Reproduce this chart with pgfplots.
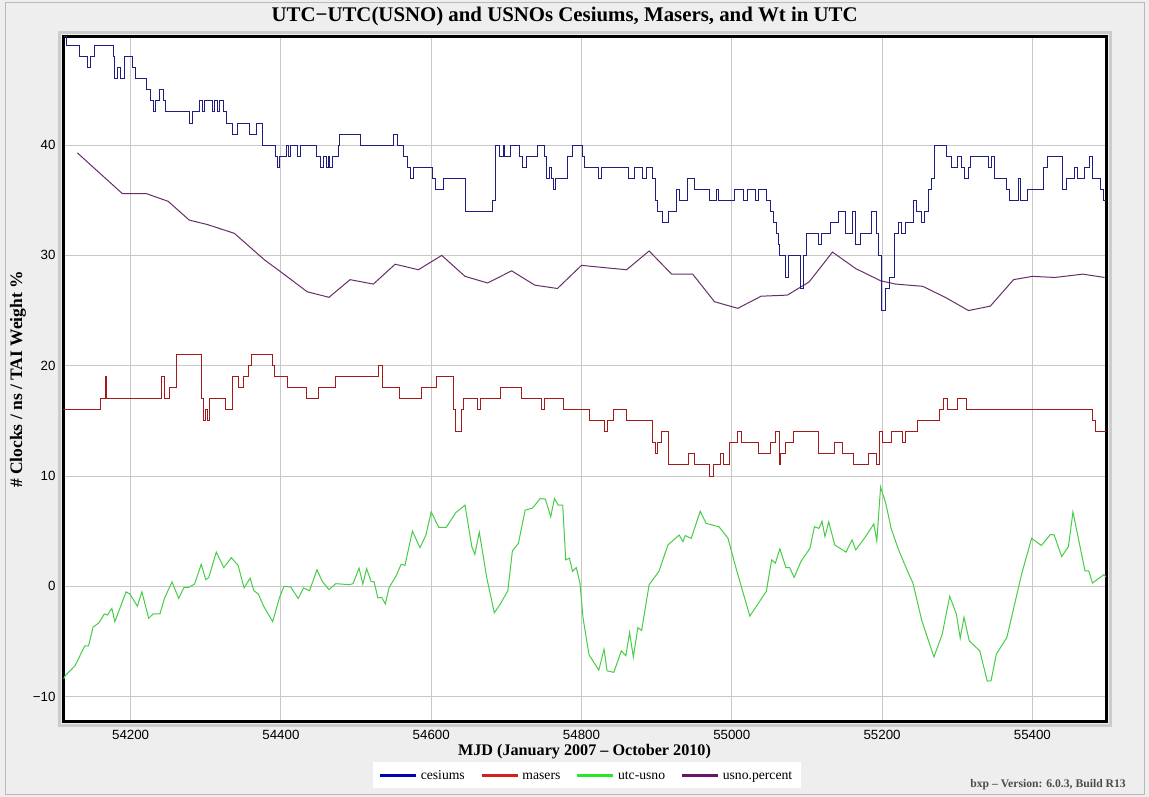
\documentclass[border=0pt]{standalone}
\usepackage{fontspec}
\setmainfont{Liberation Serif}
\setsansfont{Liberation Sans}
\usepackage{pgfplots}
\pgfplotsset{compat=1.18}

\definecolor{bg}{RGB}{238,238,238}
\definecolor{gridc}{RGB}{200,200,200}
\definecolor{cslin}{RGB}{30,30,128}
\definecolor{mslin}{RGB}{165,25,25}
\definecolor{uulin}{RGB}{70,205,70}
\definecolor{pclin}{RGB}{105,45,105}
\definecolor{csleg}{RGB}{0,0,190}
\definecolor{msleg}{RGB}{215,30,30}
\definecolor{uuleg}{RGB}{40,230,40}
\definecolor{pcleg}{RGB}{105,20,105}

\begin{document}
\begin{tikzpicture}
% page background and frame (1px = 0.6pt)
\fill[bg] (0,0) rectangle (689.4pt,478.2pt);
\draw[gray!55, line width=0.6pt] (3pt,1.5pt) rectangle (686.4pt,476.7pt);
\draw[gray!40, line width=1.8pt] (35.4pt,42.6pt) rectangle (666pt,458.4pt);

\begin{axis}[
  at={(37.8pt,45pt)}, anchor=south west,
  scale only axis,
  width=625.8pt, height=411pt,
  xmin=54110, xmax=55498,
  ymin=-12.3, ymax=49.8,
  axis background/.style={fill=white},
  axis line style={line width=1.8pt, black},
  major tick length=0pt,
  grid=major,
  grid style={line width=0.6pt, gridc},
  scaled x ticks=false,
  scaled y ticks=false,
  xtick={54200,54400,54600,54800,55000,55200,55400},
  xticklabels={54200,54400,54600,54800,55000,55200,55400},
  ytick={-10,0,10,20,30,40},
  yticklabels={−10,0,10,20,30,40},
  xticklabel style={font=\sffamily\fontsize{8}{8}\selectfont, anchor=center, yshift=-7.8pt},
  yticklabel style={font=\sffamily\fontsize{8}{8}\selectfont, anchor=east, xshift=-1pt},
  title={UTC−UTC(USNO) and USNOs Cesiums, Masers, and Wt in UTC},
  title style={at={(axis description cs:0.481,1.0292)}, anchor=center, yshift=-6pt,
    font=\bfseries\fontsize{12.5}{13}\selectfont},
  xlabel={MJD (January 2007 – October 2010)},
  xlabel style={at={(axis description cs:0.5,-0.0438)}, anchor=center,
    font=\bfseries\fontsize{9.7}{10}\selectfont},
  ylabel={\# Clocks / ns / TAI Weight \%},
  ylabel style={at={(axis description cs:-0.0431,0.5)}, anchor=center,
    font=\bfseries\fontsize{10.5}{11}\selectfont},
  legend columns=4,
  legend style={at={(axis description cs:0.5024,-0.0774)}, anchor=center,
    draw=none, fill=white, inner xsep=3pt, inner ysep=1.5pt,
    font=\fontsize{8.2}{9}\selectfont,
    nodes={text height=1.55ex, text depth=0.3ex},
    /tikz/every even column/.append style={column sep=7.2pt}},
  legend image code/.code={\draw[#1] (0pt,0pt) -- (21.6pt,0pt);},
]

\addlegendimage{csleg, line width=1.8pt}
\addlegendimage{msleg, line width=1.8pt}
\addlegendimage{uuleg, line width=1.8pt}
\addlegendimage{pcleg, line width=1.8pt}

% usno.percent
\addplot[pclin, line width=0.6pt, forget plot] coordinates {
(54129,39.3) (54189,35.6) (54221,35.6) (54250,34.9) (54278,33.2) (54302,32.8)
(54338,32.0) (54378,29.6) (54400,28.5) (54435,26.7) (54464,26.2) (54492,27.8)
(54523,27.4) (54552,29.2) (54583,28.7) (54614,30.0) (54645,28.1) (54675,27.5)
(54707,28.6) (54738,27.3) (54768,27.0) (54800,29.1) (54829,28.9) (54860,28.7)
(54890,30.4) (54920,28.3) (54948,28.3) (54977,25.8) (55008,25.2) (55039,26.3)
(55074,26.4) (55103,27.6) (55134,30.3) (55165,28.8) (55198,27.7) (55218,27.4)
(55254,27.2) (55284,26.2) (55315,25.0) (55344,25.4) (55375,27.8) (55400,28.1)
(55430,28.0) (55467,28.3) (55496,28.0)
};

% utc-usno
\addplot[uulin, line width=0.6pt, forget plot] coordinates {
(54111,-8.4) (54113,-8.1) (54126,-7.2) (54139,-5.4) (54144,-5.4) (54150,-3.7)
(54158,-3.3) (54165,-2.5) (54169,-2.6) (54175,-2.0) (54179,-3.2) (54194,-0.5)
(54199,-0.7) (54209,-1.8) (54215,-0.5) (54224,-2.9) (54230,-2.5) (54239,-2.5)
(54245,-1.1) (54255,0.4) (54264,-1.1) (54271,-0.1) (54277,-0.1) (54285,0.2)
(54294,2.0) (54300,0.6) (54304,0.8) (54314,3.1) (54324,1.7) (54334,2.6)
(54343,1.9) (54351,-0.15) (54359,0.75) (54364,-0.4) (54370,-0.7) (54377,-1.8)
(54389,-3.2) (54398,-1.05) (54404,0) (54413,-0.06) (54423,-1.1) (54430,-0.15)
(54438,-0.4) (54448,1.5) (54455,0.45) (54464,-0.3) (54473,0.24) (54491,0.15)
(54496,0.24) (54504,1.65) (54509,0.2) (54514,1.6) (54520,0.45) (54524,0.4)
(54529,-1.05) (54534,-1.0) (54539,-1.6) (54544,-0.1) (54553,0.9) (54560,2.0)
(54565,1.9) (54575,5.0) (54585,3.5) (54593,4.65) (54600,6.75) (54610,5.35)
(54620,5.35) (54633,6.7) (54645,7.36) (54654,3.6) (54658,2.9) (54664,4.9)
(54674,0.75) (54684,-2.4) (54692,-1.6) (54702,-0.4) (54708,3.2) (54716,3.9)
(54725,6.9) (54735,7.1) (54745,7.96) (54752,7.9) (54759,6.3) (54764,7.96)
(54769,7.36) (54775,7.36) (54779,2.4) (54784,2.55) (54788,1.35) (54793,1.7)
(54798,0.3) (54802,-2.85) (54810,-6.2) (54823,-7.6) (54830,-5.7) (54834,-7.66)
(54843,-7.8) (54853,-5.85) (54859,-6.3) (54864,-4.2) (54869,-6.4) (54875,-3.75)
(54880,-4.0) (54890,0.15) (54903,1.35) (54915,3.75) (54930,4.65) (54935,4.05)
(54938,4.6) (54946,4.35) (54958,6.8) (54966,5.7) (54983,5.4) (54995,4.35)
(55005,1.8) (55024,-2.7) (55046,-0.45) (55053,2.4) (55058,2.1) (55064,3.4)
(55072,1.7) (55077,1.7) (55083,0.8) (55092,2.25) (55104,3.45) (55110,5.4)
(55116,5.25) (55120,5.9) (55124,4.5) (55129,5.85) (55137,3.75) (55152,3.1)
(55160,4.2) (55165,3.3) (55178,4.5) (55189,5.65) (55193,4.1) (55198,9.0)
(55205,7.5) (55212,5.25) (55222,3.3) (55234,1.35) (55241,0.3) (55253,-3.15)
(55269,-6.4) (55280,-4.35) (55290,-0.9) (55299,-2.55) (55304,-4.7) (55309,-2.8)
(55316,-4.95) (55330,-5.85) (55340,-8.6) (55345,-8.56) (55352,-6.15) (55366,-4.65)
(55386,1.2) (55399,4.35) (55412,3.7) (55424,4.7) (55429,4.65) (55439,2.7)
(55448,3.6) (55454,6.75) (55470,1.4) (55475,1.4) (55480,0.3) (55495,1.05)
(55499,0.8)
};

% masers
\addplot[mslin, line width=0.6pt, const plot, forget plot] coordinates {
(54108,16) (54160,17) (54166,19) (54168,17) (54241,19) (54245,17) (54252,18)
(54261,21) (54294,17) (54297,15) (54300,16) (54302,15) (54305,17) (54326,16)
(54335,19) (54343,18) (54350,19) (54357,20) (54361,21) (54389,20) (54391,19)
(54409,18) (54434,17) (54450,18) (54472,19) (54530,20) (54535,18) (54558,17)
(54587,18) (54607,19) (54630,16) (54632,14) (54640,16) (54643,17) (54661,16)
(54665,17) (54692,18) (54720,17) (54747,16) (54751,17) (54776,16) (54810,15)
(54831,14) (54835,15) (54842,16) (54860,15) (54895,13) (54899,12) (54901,13)
(54907,14) (54916,11) (54942,12) (54951,11) (54970,10) (54976,11) (54985,12)
(54989,11) (54997,13) (55007,14) (55013,13) (55036,12) (55051,13) (55058,14)
(55063,11) (55065,12) (55072,13) (55082,14) (55116,12) (55137,13) (55147,12)
(55162,11) (55182,12) (55192,11) (55196,14) (55200,13) (55212,14) (55227,13)
(55231,14) (55247,15) (55277,16) (55282,17) (55287,16) (55301,17) (55312,16)
(55480,15) (55484,14) (55500,14)
};

% cesiums
\addplot[cslin, line width=0.6pt, const plot, forget plot] coordinates {
(54111,49.8) (54114,49) (54132,48) (54143,47) (54147,48) (54152,49) (54177,48)
(54179,46) (54183,47) (54186,46) (54192,48) (54202,47) (54207,46) (54221,45)
(54227,44) (54230,43) (54233,44) (54238,45) (54244,44) (54247,43) (54278,42)
(54282,43) (54291,44) (54296,43) (54298,44) (54309,43) (54311,44) (54316,43)
(54318,44) (54323,43) (54327,42) (54336,41) (54342,42) (54358,41) (54367,42)
(54375,40) (54393,39) (54396,38) (54398,39) (54407,40) (54410,39) (54413,40)
(54422,39) (54426,40) (54448,39) (54453,38) (54457,39) (54460,38) (54463,39)
(54465,38) (54468,39) (54476,40) (54478,41) (54506,40) (54550,41) (54555,40)
(54563,39) (54568,38) (54573,37) (54576,38) (54602,37) (54606,36) (54616,37)
(54646,34) (54682,35) (54685,40) (54691,39) (54696,40) (54698,39) (54706,40)
(54717,39) (54722,38) (54727,39) (54741,40) (54751,39) (54754,37) (54758,38)
(54760,37) (54763,36) (54766,37) (54782,39) (54788,40) (54801,39) (54804,38)
(54822,37) (54826,38) (54862,37) (54870,38) (54881,37) (54886,38) (54895,37)
(54899,35) (54901,34) (54908,33) (54916,34) (54926,36) (54930,35) (54941,37)
(54950,36) (54970,35) (54979,36) (54982,35) (55004,36) (55016,35) (55021,36)
(55031,35) (55036,36) (55046,35) (55052,34) (55056,33) (55060,32) (55062,31)
(55063,30) (55071,28) (55076,30) (55091,27) (55096,30) (55099,32) (55116,31)
(55120,32) (55131,33) (55142,34) (55151,32) (55160,34) (55165,31) (55171,32)
(55186,34) (55192,32) (55195,30) (55199,25) (55205,27) (55210,28) (55217,32)
(55222,33) (55226,32) (55231,33) (55242,35) (55246,34) (55253,33) (55256,34)
(55262,36) (55266,37) (55270,40) (55286,39) (55292,38) (55301,39) (55306,38)
(55310,37) (55315,38) (55317,39) (55341,38) (55345,39) (55350,37) (55365,36)
(55370,35) (55381,37) (55384,35) (55394,36) (55415,38) (55420,39) (55440,36)
(55445,37) (55456,38) (55460,37) (55470,38) (55476,39) (55480,37) (55491,36)
(55494,35) (55500,35)
};

\legend{cesiums,masers,utc-usno,usno.percent}
\end{axis}

\node[anchor=east, font=\bfseries\fontsize{7}{8}\selectfont, text=black!70]
  at (679pt,7.2pt) {bxp – Version: 6.0.3, Build R13};

\pgfresetboundingbox
\path[use as bounding box] (0,0) rectangle (689.4pt,478.2pt);
\end{tikzpicture}
\end{document}
